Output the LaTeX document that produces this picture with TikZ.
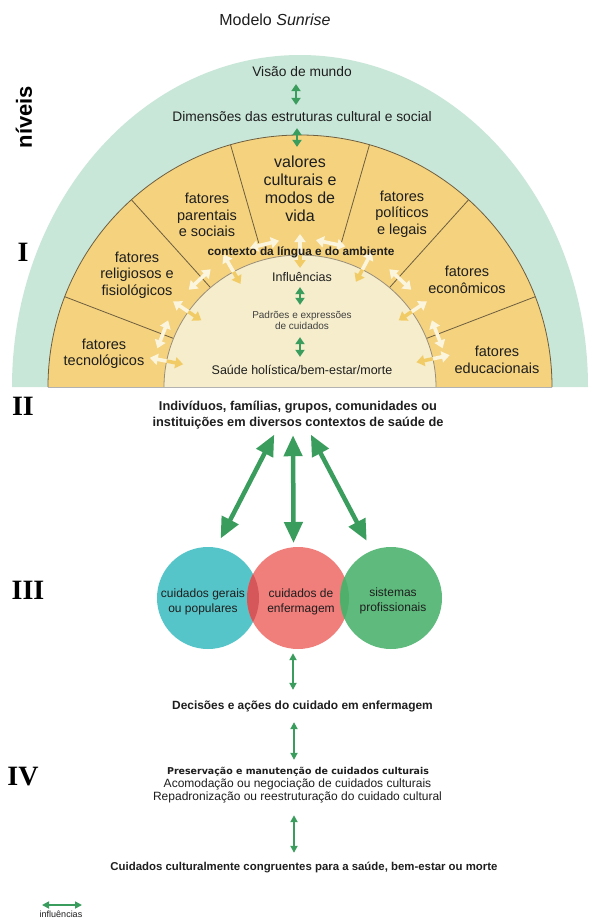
\documentclass[tikz,border=0pt]{standalone}
\usepackage{fontspec}
\setmainfont{Liberation Sans}
\newfontfamily\numfont{Liberation Serif}
\newfontfamily\widefont{DejaVu Sans}
\usetikzlibrary{arrows.meta,calc}
\definecolor{mint}{HTML}{C9E7D9}
\definecolor{bandy}{HTML}{F4D27E}
\definecolor{creamc}{HTML}{F5EDCB}
\definecolor{outl}{HTML}{6E5E40}
\definecolor{garrow}{HTML}{3A9D5D}
\definecolor{wcream}{HTML}{FCF5DE}
\definecolor{yarr}{HTML}{F1CB66}
\definecolor{tealc}{HTML}{56C5C9}
\definecolor{redc}{HTML}{F07E7B}
\definecolor{greenc}{HTML}{5FBB7D}
\definecolor{tealred}{HTML}{D5575A}
\definecolor{redgreen}{HTML}{4FAF6B}
\definecolor{ink}{HTML}{1E1E1E}
\begin{document}
\begin{tikzpicture}[x=1pt,y=-1pt,
  every node/.style={text=ink},
  txt/.style={inner sep=0pt, align=center},
  sect/.style={txt, font=\fontsize{14.5}{16.5}\selectfont},
  sarr/.style={draw=garrow, line width=2.6pt, {Triangle[width=9pt,length=7pt]}-{Triangle[width=9pt,length=7pt]}},
  tarr/.style={draw=garrow, line width=1.8pt, {Triangle[width=7pt,length=7pt]}-{Triangle[width=7pt,length=7pt]}},
  barr/.style={draw=garrow, line width=4.5pt, {Triangle[width=18pt,length=21pt]}-{Triangle[width=18pt,length=21pt]}},
  warr/.style={draw=wcream, line width=3.6pt, {Triangle[width=11pt,length=8pt]}-{Triangle[width=11pt,length=8pt]}},
  yarrow/.style={warr, draw=yarr},
  numeral/.style={inner sep=0pt, font=\numfont\bfseries\fontsize{28}{28}\selectfont, text=black},
  circ/.style={circle, inner sep=0pt, minimum size=102pt},
]
\useasboundingbox (0,0) rectangle (589,921);
\clip (0,0) rectangle (589,921);
\fill[white] (0,0) rectangle (589,921);

% ---------- semicircle ----------
\begin{scope}[shift={(300,387)}, yscale=-1]
  \fill[mint] (-288,0) arc[start angle=180,end angle=0,x radius=288,y radius=332] -- cycle;
  \fill[bandy] (-252,0) arc[start angle=180,end angle=0,radius=252] -- cycle;
  \draw[outl, line width=0.8pt] (-252,0) arc[start angle=180,end angle=0,radius=252];
  \foreach \a/\r in {159/130,132/130,106/150,74/150,48/130,21/130}
    \draw[outl, line width=0.8pt] (\a:\r) -- (\a:252);
  \fill[creamc] (-136,0) arc[start angle=180,end angle=0,x radius=136,y radius=132] -- cycle;
  \draw[outl!70, line width=0.8pt] (-136,0) arc[start angle=180,end angle=0,x radius=136,y radius=132];
  \draw[gray!60, line width=1pt] (-252,0) -- (252,0);
  % radial influence arrows
  \foreach \a in {169,146,120,90,62,34,12}
    \draw[warr] (\a:153) -- (\a:119);
  \begin{scope}
    \clip (-136,0) arc[start angle=180,end angle=0,x radius=136,y radius=132] -- cycle;
    \foreach \a in {169,146,120,90,62,34,12}
      \draw[yarrow] (\a:153) -- (\a:119);
  \end{scope}
  % tangential influence arrows
  \foreach \a in {159,133,104,78,47,21}
    \draw[warr] ($(\a:147)+(\a+90:15)$) -- ($(\a:147)+(\a-90:15)$);
\end{scope}

% ---------- title / side labels ----------
\node[txt, font=\fontsize{16}{16}\selectfont] (title) at (275,20) {Modelo \textit{Sunrise}};
\node[txt, rotate=90, font=\bfseries\fontsize{22}{22}\selectfont, text=black] (niveis) at (24,117) {níveis};
\node[numeral] (nI) at (23,252) {I};
\node[numeral] (nII) at (23,406) {II};
\node[numeral] (nIII) at (28,590) {III};
\node[numeral] (nIV) at (23,777) {IV};

% ---------- semicircle texts ----------
\node[txt, text height=10.35pt, text depth=3.45pt, font=\fontsize{13.8}{13.8}\selectfont] (visao) at (302,73) {Visão de mundo};
\node[txt, text height=10.35pt, text depth=3.45pt, font=\fontsize{13.8}{13.8}\selectfont] (dim) at (302,118) {Dimensões das estruturas cultural e social};
\node[sect, font=\fontsize{16}{18}\selectfont] (valores) at (300,189) {valores\\culturais e\\modos de\\vida};
\node[sect] (parent) at (207,215) {fatores\\parentais\\e sociais};
\node[sect] (relig) at (137,275) {fatores\\religiosos e\\fisiológicos};
\node[sect] (tecno) at (104,354) {fatores\\tecnológicos};
\node[sect] (polit) at (402,214) {fatores\\políticos\\e legais};
\node[sect] (econ) at (467,280) {fatores\\econômicos};
\node[sect] (educ) at (497,360) {fatores\\educacionais};
\node[txt, font=\bfseries\fontsize{11.8}{11.8}\selectfont] (contexto) at (301,252) {contexto da língua e do ambiente};
\node[txt, text height=9.4pt, text depth=3.1pt, font=\fontsize{12.5}{12.5}\selectfont] (influ) at (302,278) {Influências};
\node[txt, font=\fontsize{10}{11}\selectfont, text=ink!85] (padroes) at (302,320) {Padrões e expressões\\de cuidados};
\node[txt, text height=9.4pt, text depth=3.1pt, font=\fontsize{12.5}{12.5}\selectfont] (saude) at (302,371) {Saúde holística/bem-estar/morte};

\draw[sarr, shorten <=4pt, shorten >=6pt] ([xshift=-6pt]visao.south) -- ([xshift=-6pt]dim.north);
\draw[sarr, shorten <=3pt, shorten >=9pt] ([xshift=-5pt]dim.south) -- ([xshift=-3pt]valores.north);
\draw[sarr, shorten <=2.7pt, shorten >=5.8pt] ([xshift=-2pt]influ.south) -- ([xshift=-2pt]padroes.north);
\draw[sarr, shorten <=7.8pt, shorten >=7.7pt] ([xshift=-2pt]padroes.south) -- ([xshift=-2pt]saude.north);

% ---------- level II / III ----------
\node[txt, font=\bfseries\fontsize{12.8}{16}\selectfont] (indiv) at (298,415) {Indivíduos, famílias, grupos, comunidades ou\\instituições em diversos contextos de saúde de};

\node[circ, fill=tealc] (cteal) at (208,598) {};
\node[circ, fill=redc] (cred) at (298,598) {};
\node[circ, fill=greenc] (cgreen) at (391,598) {};
\begin{scope}
  \clip (208,598) circle[radius=51];
  \fill[tealred] (298,598) circle[radius=51];
\end{scope}
\begin{scope}
  \clip (298,598) circle[radius=51];
  \fill[redgreen] (391,598) circle[radius=51];
\end{scope}
\node[txt, font=\fontsize{12}{15}\selectfont] (tteal) at (203,601.5) {cuidados gerais\\ou populares};
\node[txt, font=\fontsize{12}{15}\selectfont] (tred) at (301,601.5) {cuidados de\\enfermagem};
\node[txt, font=\fontsize{12}{15}\selectfont] (tgreen) at (393,600.5) {sistemas\\profissionais};

\draw[barr, shorten <=6pt, shorten >=10pt] ([xshift=-21pt]indiv.south) -- (cteal.81);
\draw[barr, shorten <=6pt, shorten >=4pt] ([xshift=-5pt]indiv.south) -- (cred.95);
\draw[barr, shorten <=6pt, shorten >=11pt] ([xshift=10pt]indiv.south) -- (cgreen.112);

% ---------- level IV ----------
\node[txt, text height=8.9pt, text depth=3pt, font=\bfseries\fontsize{11.9}{11.9}\selectfont] (decis) at (302.5,707) {Decisões e ações do cuidado em enfermagem};
\node[txt, text height=7.1pt, text depth=2.4pt, font=\widefont\bfseries\fontsize{9.45}{9.45}\selectfont] (pres) at (298,772) {Preservação e manutenção de cuidados culturais};
\node[txt, text height=9pt, text depth=3pt, font=\fontsize{12}{12}\selectfont] (acom) at (297.5,784.5) {Acomodação ou negociação de cuidados culturais};
\node[txt, text height=9pt, text depth=3pt, font=\fontsize{12}{12}\selectfont] (rep) at (297.5,797.5) {Repadronização ou reestruturação do cuidado cultural};
\node[txt, text height=8.55pt, text depth=2.85pt, font=\bfseries\fontsize{11.4}{11.4}\selectfont] (cuid) at (304,868) {Cuidados culturalmente congruentes para a saúde, bem-estar ou morte};

\draw[tarr, shorten <=4pt, shorten >=11pt] ([xshift=-5pt]cred.south) -- ([xshift=-9.5pt]decis.north);
\draw[tarr, shorten <=9pt, shorten >=7.2pt] ([xshift=-8.5pt]decis.south) -- ([xshift=-4pt]pres.north);
\draw[tarr, shorten <=11.5pt, shorten >=9.3pt] ([xshift=-3.5pt]rep.south) -- ([xshift=-10pt]cuid.north);

% ---------- legend ----------
\coordinate (legL) at (42,905);
\coordinate (legR) at (82,905);
\draw[tarr, line width=1.6pt] (legL) -- (legR);
\node[txt, font=\fontsize{9}{9}\selectfont] (legtxt) at (61,914.5) {influências};
\end{tikzpicture}
\end{document}
